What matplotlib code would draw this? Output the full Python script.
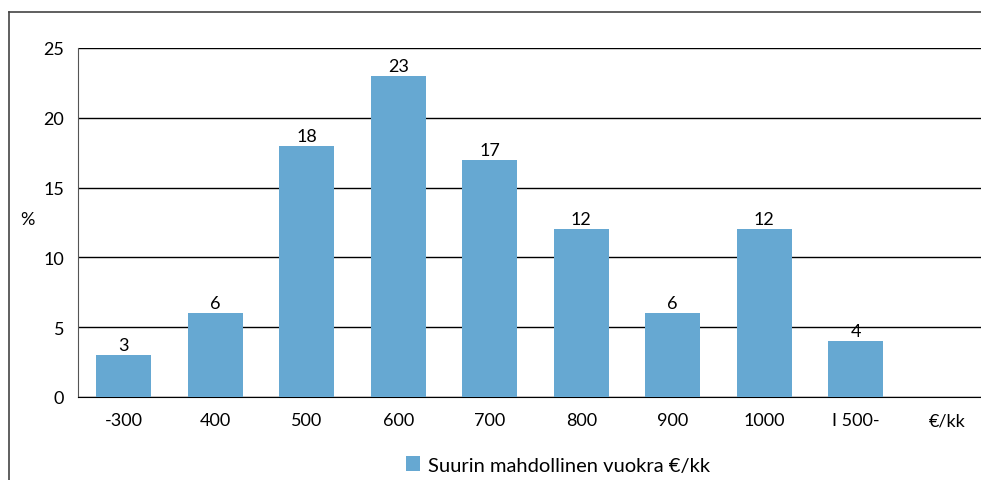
import matplotlib
matplotlib.use("Agg")
import matplotlib.pyplot as plt
from matplotlib.lines import Line2D

categories = ["-300", "400", "500", "600", "700", "800", "900", "1000", "I 500-", "€/kk"]
values = [3, 6, 18, 23, 17, 12, 6, 12, 4, None]
series_name = "Suurin mahdollinen vuokra €/kk"
yticks = [0, 5, 10, 15, 20, 25]

plt.rcParams['font.family'] = ['Lato', 'DejaVu Sans']
W, H = 981, 481
fig = plt.figure(figsize=(W/100, H/100), dpi=100)

left_px, right_px, top_px, bottom_px = 78, 981, 49, 398
ax = fig.add_axes([left_px/W, 1 - bottom_px/H, (right_px-left_px)/W, (bottom_px-top_px)/H])

color = "#66A8D2"
xs = list(range(len(categories)))
bx = [x for x, v in zip(xs, values) if v is not None]
bv = [v for v in values if v is not None]
bars = ax.bar(bx, bv, width=0.6, color=color, zorder=3, label=series_name)
for x, v in zip(bx, bv):
    ax.text(x, v + 0.15, str(v), ha="center", va="bottom", fontsize=13, color="black", zorder=4)

spacing = 91.5
ax.set_xlim(-0.5, -0.5 + (right_px - left_px) / spacing)
ax.set_ylim(0, 25)
ax.set_yticks(yticks)
ax.set_yticklabels([str(t) for t in yticks], fontsize=13)
ax.set_xticks(xs)
ax.set_xticklabels(categories, fontsize=13)
ax.tick_params(axis='both', length=0, pad=10)
ax.tick_params(axis='x', pad=11)
ax.yaxis.grid(True, color="black", linewidth=1.0, zorder=0)
ax.set_axisbelow(True)
for s in ["top", "right"]:
    ax.spines[s].set_visible(False)
ax.spines["left"].set_color("#555555")
ax.spines["bottom"].set_color("black")

fig.text(27/W, 1 - 220/H, "%", fontsize=13, ha="center", va="center")

leg = fig.legend(handles=[bars], labels=[series_name], loc="center",
                 bbox_to_anchor=(558/W, 1 - 466/H), frameon=False, fontsize=14.5,
                 handlelength=0.7, handleheight=0.7, handletextpad=0.4)

# outer frame (left and top edges)
fig.add_artist(Line2D([9/W, 9/W], [0, 1 - 13/H], color="#444444", linewidth=1.2))
fig.add_artist(Line2D([9/W, 1], [1 - 13/H, 1 - 13/H], color="#444444", linewidth=1.2))

fig.savefig("out.png", dpi=100)
